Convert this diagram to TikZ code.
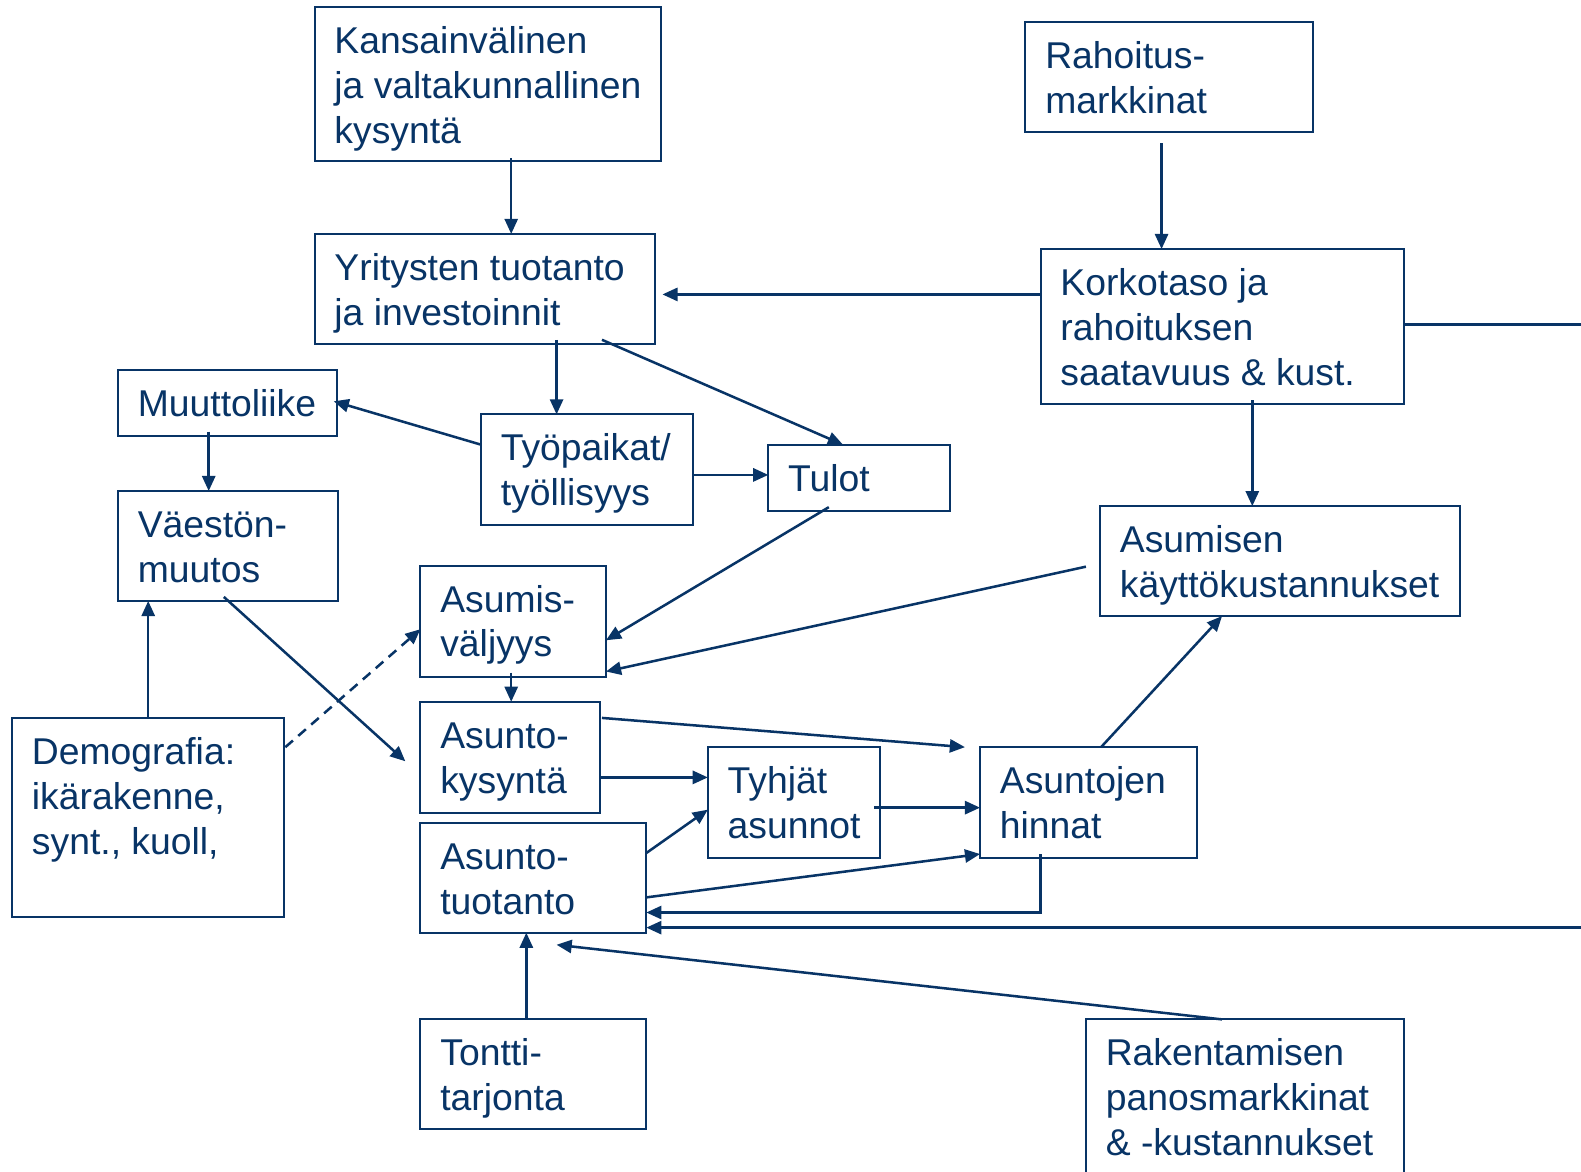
\documentclass[tikz,border=0pt]{standalone}
\usepackage{fontspec}
\setmainfont{Liberation Sans}
\usetikzlibrary{arrows.meta,calc}
\definecolor{navy}{RGB}{8,52,102}
\newcommand{\boxtext}[1]{\begin{tabular}[t]{@{}l@{}}#1\end{tabular}}
\newcommand{\mkbox}[6]{%
  \node[box, minimum width=#4pt, minimum height=#5pt] (#1) at (#2,#3) {};
  \node[txt] (#1t) at ($(#1.north west)+(19.5,46)$) {\boxtext{#6}};
}
\begin{document}
\begin{tikzpicture}[x=1pt,y=-1pt,
  box/.style={draw=navy, line width=2pt, inner sep=0pt, outer sep=0pt, anchor=north west},
  txt/.style={font=\fontsize{37}{44.5}\selectfont, text=navy, inner sep=0pt, anchor=base west},
  arr/.style={draw=navy, line width=2.5pt, -{Triangle[length=15pt,width=13pt]}},
  ln/.style={draw=navy, line width=2.5pt},
  dsh/.style={arr, dash pattern=on 10pt off 7pt}]
\useasboundingbox[fill=white] (0,0) rectangle (1568,1162);

\mkbox{kans}{312}{7}{344}{153}{Kansainvälinen\\ja valtakunnallinen\\kysyntä}
\mkbox{rah}{1017}{22}{285}{109}{Rahoitus-\\markkinat}
\mkbox{yrit}{312}{232}{338}{109}{Yritysten tuotanto\\ja investoinnit}
\mkbox{kork}{1032}{247}{360}{154}{Korkotaso ja\\rahoituksen\\saatavuus \& kust.}
\mkbox{muut}{117}{367}{217}{65}{Muuttoliike}
\mkbox{tyop}{477}{411}{210}{110}{Työpaikat/\\työllisyys}
\mkbox{tulot}{762}{441}{180}{66}{Tulot}
\mkbox{vaes}{117}{487}{218}{109}{Väestön-\\muutos}
\mkbox{kayt}{1091}{502}{357}{109}{Asumisen\\käyttökustannukset}
\mkbox{valj}{417}{561}{184}{110}{Asumis-\\väljyys}
\mkbox{kys}{417}{696}{178}{110}{Asunto-\\kysyntä}
\mkbox{demo}{12}{712}{270}{197}{Demografia:\\ikärakenne,\\synt., kuoll,}
\mkbox{tyhj}{702}{741}{171}{110}{Tyhjät\\asunnot}
\mkbox{hinn}{972}{741}{215}{110}{Asuntojen\\hinnat}
\mkbox{tuot}{417}{816}{224}{109}{Asunto-\\tuotanto}
\mkbox{tont}{417}{1011}{224}{109}{Tontti-\\tarjonta}
\mkbox{rak}{1077}{1011}{315}{180}{Rakentamisen\\panosmarkkinat\\\& -kustannukset}

\coordinate (edgeA) at (1568,322);
\coordinate (edgeB) at (1568,920);

% connectors
\draw[arr] ($(kans.south west)+(195,-3)$) -- ($(yrit.north west)+(195,0)$);
\draw[arr] ($(rah.south west)+(135,11)$) -- ($(kork.north west)+(120,0)$);
\draw[arr] ($(kork.north west)+(0,45)$) -- ($(yrit.north east)+(7,60)$);
\draw[ln] ($(kork.north east)+(0,75)$) -- (edgeA);
\draw[arr] ($(kork.south west)+(210,-4)$) -- ($(kayt.north west)+(151,0)$);
\draw[arr] ($(yrit.south west)+(240,-4)$) -- ($(tyop.north west)+(75,0)$);
\draw[arr] ($(yrit.south west)+(285,-4)$) -- ($(tulot.north west)+(74,0)$);
\draw[arr] ($(tyop.north west)+(0,30)$) -- ($(muut.north east)+(-3,31)$);
\draw[arr] ($(tyop.north east)+(0,60)$) -- ($(tulot.north west)+(0,30)$);
\draw[arr] ($(muut.south west)+(90,-4)$) -- ($(vaes.north west)+(90,0)$);
\draw[arr] ($(tulot.south west)+(60,-4)$) -- ($(valj.north east)+(0,74)$);
\draw[arr] ($(kayt.north west)+(-14,60)$) -- ($(valj.south east)+(0,-5)$);
\draw[arr] ($(vaes.south west)+(105,-4)$) -- ($(kys.north west)+(-15,59)$);
\draw[arr] ($(demo.north west)+(135,0)$) -- ($(vaes.south west)+(30,0)$);
\draw[dsh] ($(demo.north east)+(1,29)$) -- ($(valj.north west)+(0,63)$);
\draw[arr] ($(valj.south west)+(90,-4)$) -- ($(kys.north west)+(90,0)$);
\draw[arr] ($(kys.north east)+(2,16)$) -- ($(hinn.north west)+(-15,0)$);
\draw[arr] ($(kys.north east)+(0,75)$) -- ($(tyhj.north west)+(0,30)$);
\draw[arr] ($(tuot.north east)+(0,30)$) -- ($(tyhj.north west)+(0,62)$);
\draw[arr] ($(tyhj.north east)+(-6,60)$) -- ($(hinn.north west)+(0,60)$);
\draw[arr] ($(tuot.north east)+(0,74)$) -- ($(hinn.south west)+(0,-4)$);
\draw[arr] ($(hinn.south west)+(60,-4)$) |- ($(tuot.south east)+(0,-20)$);
\draw[arr] (edgeB) -- ($(tuot.south east)+(0,-5)$);
\draw[arr] ($(rak.north west)+(135,0)$) -- ($(tuot.south west)+(135,12)$);
\draw[arr] ($(tont.north west)+(105,0)$) -- ($(tuot.south west)+(105,0)$);
\draw[arr] ($(hinn.north west)+(120,0)$) -- ($(kayt.south west)+(121,0)$);
\end{tikzpicture}
\end{document}
